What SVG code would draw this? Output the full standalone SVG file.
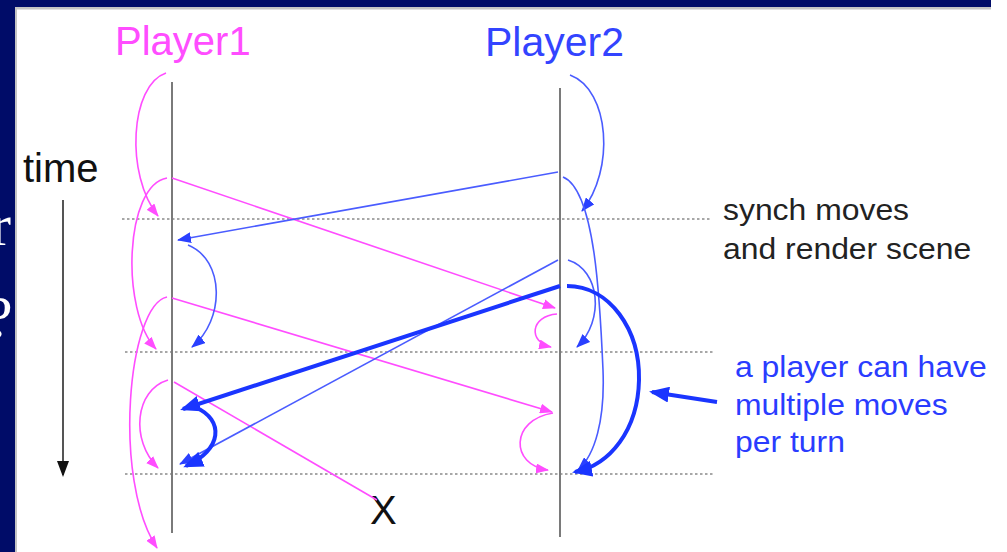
<svg xmlns="http://www.w3.org/2000/svg" width="1007" height="552" viewBox="0 0 1007 552">
<style>
.pk{fill:none;stroke:#ff4dff;stroke-width:1.6}
.bt{fill:none;stroke:#4a5cff;stroke-width:1.6}
.bk{fill:none;stroke:#1a35ff;stroke-width:4}
.life{stroke:#7a7a7a;stroke-width:2}
.sync{stroke:#8a8a8a;stroke-width:1.6;stroke-dasharray:2.5,2.5}
.lbl{font-family:"Liberation Sans",Arial,sans-serif}
.frag{font-family:"Liberation Serif","Times New Roman",serif;font-size:60px;fill:#ffffff}
</style>
<defs>
<marker id="mp" markerUnits="userSpaceOnUse" markerWidth="13" markerHeight="10" refX="12" refY="5" orient="auto"><path d="M0,0 L13,5 L0,10 z" fill="#ff4dff"/></marker>
<marker id="mb" markerUnits="userSpaceOnUse" markerWidth="14" markerHeight="11" refX="13" refY="5.5" orient="auto"><path d="M0,0 L14,5.5 L0,11 z" fill="#2a40ff"/></marker>
<marker id="mk" markerUnits="userSpaceOnUse" markerWidth="20" markerHeight="16" refX="17" refY="8" orient="auto"><path d="M0,0 L20,8 L0,16 z" fill="#1a35ff"/></marker>
<marker id="mt" markerUnits="userSpaceOnUse" markerWidth="16" markerHeight="12" refX="14" refY="6" orient="auto"><path d="M0,0 L16,6 L0,12 z" fill="#111"/></marker>
</defs>
<rect x="0" y="0" width="1007" height="552" fill="#ffffff"/>
<g id="slide-frame">
<rect x="0" y="0" width="15" height="552" fill="#000c68"/>
<rect x="0" y="0" width="991" height="7" fill="#000c68"/>
<rect x="15" y="7" width="976" height="2.5" fill="#c4c4c4"/>
<rect x="15" y="7" width="2" height="545" fill="#c4c4c4"/>
<text class="frag" x="-9" y="245">r</text>
<text class="frag" x="-14" y="337">?</text>
</g>

<g id="sync-lines">
<line class="sync" x1="122" y1="219" x2="712" y2="219"/>
<line class="sync" x1="125" y1="352" x2="713" y2="352"/>
<line class="sync" x1="125" y1="474" x2="713" y2="474"/>
</g>

<g id="player1">
<text class="lbl" x="115" y="55" font-size="40" fill="#ff4dff">Player1</text>
<line class="life" x1="172" y1="82" x2="172" y2="533"/>
</g>
<g id="player2">
<text class="lbl" x="485" y="56" font-size="41" fill="#3344ff">Player2</text>
<line class="life" x1="560" y1="88" x2="560" y2="537"/>
</g>
<g id="time">
<text class="lbl" x="23" y="182" font-size="40" fill="#111">time</text>
<line x1="63" y1="200" x2="63" y2="475" stroke="#555" stroke-width="2" marker-end="url(#mt)"/>
</g>
<g id="sync-note">
<text class="lbl" transform="translate(723,220) scale(1.1,1)" font-size="29" fill="#222">synch moves</text>
<text class="lbl" transform="translate(723,259) scale(1.1,1)" font-size="29" fill="#222">and render scene</text>
</g>
<g id="multi-note">
<text class="lbl" transform="translate(735,377) scale(1.1,1)" font-size="29" fill="#2a3cff">a player can have</text>
<text class="lbl" transform="translate(735,415) scale(1.1,1)" font-size="29" fill="#2a3cff">multiple moves</text>
<text class="lbl" transform="translate(735,452) scale(1.1,1)" font-size="29" fill="#2a3cff">per turn</text>
</g>
<g id="lost">
<text class="lbl" x="370" y="524" font-size="40" fill="#111">X</text>
</g>

<g id="connectors">
<path class="pk" d="M166,73 C130,85 125,175 158,216" marker-end="url(#mp)"/>
<path class="pk" d="M167,178 C125,185 120,310 156,349" marker-end="url(#mp)"/>
<path class="pk" d="M167,297 C128,305 112,480 157,548" marker-end="url(#mp)"/>
<path class="pk" d="M168,380 C135,390 130,440 158,468" marker-end="url(#mp)"/>
<path class="pk" d="M172,178 L555,308" marker-end="url(#mp)"/>
<path class="pk" d="M557,314 C530,316 528,342 551,347" marker-end="url(#mp)"/>
<path class="pk" d="M172,298 L552,412" marker-end="url(#mp)"/>
<path class="pk" d="M553,413 C510,420 510,465 548,470" marker-end="url(#mp)"/>
<path class="pk" d="M174,382 L377,500"/>

<path class="bt" d="M570,75 C610,90 615,170 582,211" marker-end="url(#mb)"/>
<path class="bt" d="M558,172 L178,240" marker-end="url(#mb)"/>
<path class="bt" d="M563,177 C595,190 600,300 603,370 C605,420 595,455 578,470" marker-end="url(#mb)"/>
<path class="bt" d="M568,260 C600,270 605,320 577,347" marker-end="url(#mb)"/>
<path class="bt" d="M558,260 L180,464" marker-end="url(#mb)"/>
<path class="bt" d="M188,245 C225,260 225,320 192,347" marker-end="url(#mb)"/>

<path class="bk" d="M560,286 L183,409" marker-end="url(#mk)"/>
<path class="bk" d="M567,286 C610,286 640,330 639,380 C638,430 610,465 575,472" marker-end="url(#mk)"/>
<path class="bk" d="M195,407 C225,420 222,450 186,466" marker-end="url(#mk)"/>
<path class="bk" d="M717,402 L652,392" marker-end="url(#mk)"/>
</g>
</svg>
